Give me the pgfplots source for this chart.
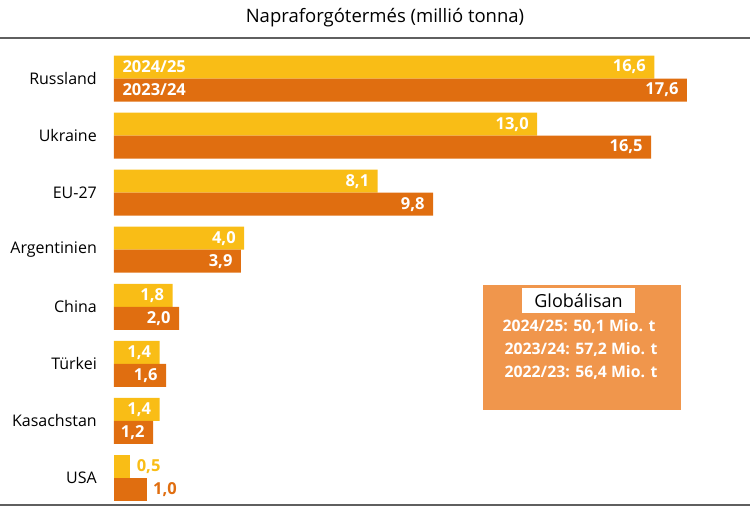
\documentclass[border=0pt]{standalone}
\usepackage{pgfplots}
\pgfplotsset{compat=1.18}
\usepackage{fontspec}
\setmainfont{Open Sans}
\definecolor{cy}{RGB}{249,189,22}
\definecolor{co}{RGB}{224,110,16}
\definecolor{cbox}{RGB}{240,150,76}
\definecolor{rule}{RGB}{95,95,95}
\begin{document}
\begin{tikzpicture}
\useasboundingbox (0,0) rectangle (750pt,509pt);
\draw[rule, line width=2pt] (0,471pt) -- (750pt,471pt);
\draw[rule, line width=2pt] (0,4pt) -- (750pt,4pt);
\node[font=\fontsize{18.5}{22}\selectfont] at (385pt,491pt) {Napraforgótermés (millió tonna)};
\begin{axis}[
  at={(114pt,2.5pt)}, anchor=south west,
  scale only axis, width=600pt, height=456.5pt,
  xmin=0, xmax=18.43, ymin=-0.5, ymax=7.5,
  axis lines=left, axis line style={draw=none}, clip=false,
  xbar, bar width=23pt,
  xtick=\empty,
  ytick={0,1,2,3,4,5,6,7},
  yticklabels={USA,Kasachstan,Türkei,China,Argentinien,EU-27,Ukraine,Russland},
  yticklabel style={font=\fontsize{16}{19}\selectfont, anchor=east, inner sep=0pt, xshift=-17pt},
  major tick length=0pt, tick style={draw=none},
  /pgf/number format/.cd, assume math mode=true, use comma, fixed, fixed zerofill, precision=1,
  /pgfplots/.cd,
]
\addplot[fill=cy, draw=none, bar shift=11.5pt,
  nodes near coords, nodes near coords style={anchor=east, text=white, font=\bfseries\fontsize{16.5}{19}\selectfont, xshift=-5pt}]
  coordinates {(16.6,7) (13.0,6) (8.1,5) (4.0,4) (1.8,3) (1.4,2) (1.4,1)};
\addplot[fill=co, draw=none, bar shift=-11.5pt,
  nodes near coords, nodes near coords style={anchor=east, text=white, font=\bfseries\fontsize{16.5}{19}\selectfont, xshift=-5pt}]
  coordinates {(17.6,7) (16.5,6) (9.8,5) (3.9,4) (2.0,3) (1.6,2) (1.2,1)};
\addplot[fill=cy, draw=none, bar shift=11.5pt,
  nodes near coords, nodes near coords style={anchor=west, text=cy, font=\bfseries\fontsize{16.5}{19}\selectfont, xshift=3pt}]
  coordinates {(0.5,0)};
\addplot[fill=co, draw=none, bar shift=-11.5pt,
  nodes near coords, nodes near coords style={anchor=west, text=co, font=\bfseries\fontsize{16.5}{19}\selectfont, xshift=3pt}]
  coordinates {(1.0,0)};
\node[anchor=west, text=white, font=\bfseries\fontsize{16.5}{19}\selectfont] at (axis cs:0,7) [xshift=5pt, yshift=11.5pt] {2024/25};
\node[anchor=west, text=white, font=\bfseries\fontsize{16.5}{19}\selectfont] at (axis cs:0,7) [xshift=5pt, yshift=-11.5pt] {2023/24};
\end{axis}
\fill[cbox] (483pt,99pt) rectangle (681pt,224pt);
\fill[white] (522pt,196pt) rectangle (635pt,221pt);
\node[font=\fontsize{18}{21}\selectfont] at (578.5pt,208.5pt) {Globálisan};
\node[text=white, font=\bfseries\fontsize{15.8}{18}\selectfont] at (579pt,182pt) {2024/25: 50,1 Mio. t};
\node[text=white, font=\bfseries\fontsize{15.8}{18}\selectfont] at (581pt,159pt) {2023/24: 57,2 Mio. t};
\node[text=white, font=\bfseries\fontsize{15.8}{18}\selectfont] at (581pt,136pt) {2022/23: 56,4 Mio. t};
\end{tikzpicture}
\end{document}
